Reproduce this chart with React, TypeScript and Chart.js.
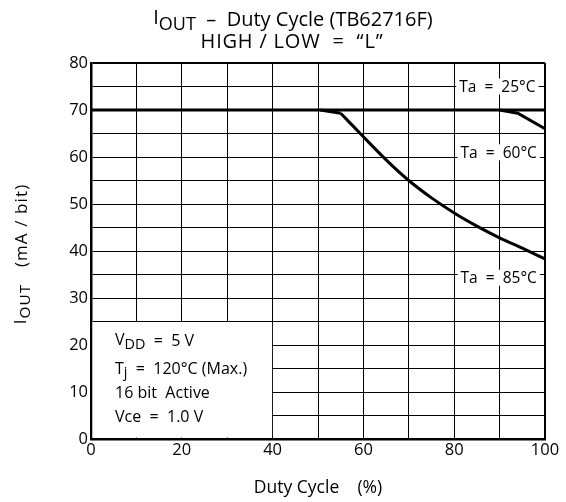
import React, { useEffect, useRef } from 'react';
import { Chart, registerables } from 'chart.js';

Chart.register(...registerables);

const FONT = "'Open Sans', 'DejaVu Sans', sans-serif";

// Data (Duty Cycle %, IOUT mA/bit)
const dutyTa25 = [0, 100];
const ioutTa25 = [70, 70];
const dutyTa60 = [90, 94, 100];
const ioutTa60 = [70, 69.3, 66];
const dutyTa85Flat = [50.5, 55];
const ioutTa85Flat = [70, 69.3];
const dutyTa85 = [55, 60, 65, 70, 75, 80, 85, 90, 95, 100];
const ioutTa85 = [69.3, 64.3, 59.4, 55, 51.3, 48.1, 45.3, 42.8, 40.6, 38.3];

const xTickLabels = [0, 20, 40, 60, 80, 100];
const yTickLabels = [0, 10, 20, 30, 40, 50, 60, 70, 80];

// Curve annotations: [label, duty, iout]
const curveLabels: [string, number, number][] = [
  ['Ta  =  25°C', 89.5, 75],
  ['Ta  =  60°C', 89.8, 61],
  ['Ta  =  85°C', 89.8, 34.3],
];

type Run = { t: string; sub?: boolean; sup?: boolean };

const titleLine1: Run[] = [{ t: 'I', sup: true }, { t: 'OUT', sub: true }, { t: '  –  Duty Cycle (TB62716F)' }];
const titleLine2: Run[] = [{ t: 'HIGH / LOW  =  “L”' }];
const yTitle: Run[] = [{ t: 'I', sup: true }, { t: 'OUT', sub: true }, { t: '   (mA / bit)' }];
const xTitle = 'Duty Cycle    (%)';

// Conditions box: lines and their iout positions
const condLines: Run[][] = [
  [{ t: 'V', sup: true }, { t: 'DD', sub: true }, { t: '  =  5 V' }],
  [{ t: 'T' }, { t: 'j', sub: true }, { t: '  =  120°C (Max.)' }],
  [{ t: '16 bit  Active' }],
  [{ t: 'Vce  =  1.0 V' }],
];
const condLineY = [20.9, 15.1, 10.0, 4.8];
const condBox = { xMax: 40, yMax: 25 };

const toPts = (xs: number[], ys: number[]) => xs.map((x, i) => ({ x, y: ys[i] }));

function runsWidth(ctx: CanvasRenderingContext2D, runs: Run[], size: number) {
  let w = 0;
  for (const r of runs) {
    ctx.font = `${r.sub ? size * 0.9 : size}px ${FONT}`;
    w += ctx.measureText(r.t).width;
  }
  return w;
}

function drawRuns(ctx: CanvasRenderingContext2D, runs: Run[], x: number, y: number, size: number, align: 'left' | 'center', spacing = 0) {
  ctx.save();
  (ctx as any).letterSpacing = `${spacing}px`;
  ctx.textBaseline = 'alphabetic';
  ctx.textAlign = 'left';
  ctx.fillStyle = '#000';
  let cx = align === 'center' ? x - runsWidth(ctx, runs, size) / 2 : x;
  for (const r of runs) {
    const s = r.sub ? size * 0.9 : size;
    ctx.font = `${s}px ${FONT}`;
    const dy = r.sub ? size * 0.2 : r.sup ? -size * 0.08 : 0;
    ctx.fillText(r.t, cx, y + dy);
    cx += ctx.measureText(r.t).width;
  }
  ctx.restore();
}

const annotPlugin = {
  id: 'annot',
  beforeDatasetsDraw(chart: any) {
    const { ctx, scales } = chart;
    const xs = scales.x, ys = scales.y;
    ctx.save();
    // conditions box (white, covering grid)
    const l = xs.getPixelForValue(0) + 1.5;
    const r = xs.getPixelForValue(condBox.xMax) - 0.5;
    const t = ys.getPixelForValue(condBox.yMax) + 0.5;
    const b = ys.getPixelForValue(0) - 1.5;
    ctx.fillStyle = '#fff';
    ctx.fillRect(l, t, r - l, b - t);
    condLines.forEach((runs, i) => {
      drawRuns(ctx, runs, xs.getPixelForValue(5.3), ys.getPixelForValue(condLineY[i]) + 5.5, 16, 'left');
    });
    // curve labels
    curveLabels.forEach(([txt, dx, dy]) => {
      ctx.font = `15.5px ${FONT}`;
      const w = ctx.measureText(txt).width;
      const cx = xs.getPixelForValue(dx);
      const cy = ys.getPixelForValue(dy);
      ctx.fillStyle = '#fff';
      ctx.fillRect(cx - w / 2 - 3, cy - 8, w + 6, 16);
      ctx.fillStyle = '#000';
      ctx.textAlign = 'center';
      ctx.textBaseline = 'middle';
      ctx.fillText(txt, cx, cy + 1);
    });
    ctx.restore();
  },
  afterDraw(chart: any) {
    const { ctx } = chart;
    const ca = chart.chartArea;
    // Title
    drawRuns(ctx, titleLine1, 293, 26, 20, 'center');
    drawRuns(ctx, titleLine2, 292, 48, 20, 'center', 0.8);
    // Y title rotated
    ctx.save();
    ctx.translate(27, (ca.top + ca.bottom) / 2 + 3);
    ctx.rotate(-Math.PI / 2);
    drawRuns(ctx, yTitle, 0, 0, 17, 'center', 1.1);
    ctx.restore();
  },
};

const edgeWidth = (edge: number) => (c: any) => (c.tick && c.tick.value === edge ? 2 : 1);

export default function App() {
  const ref = useRef<HTMLCanvasElement>(null);
  useEffect(() => {
    document.body.style.margin = '0';
    const canvas = ref.current!;
    const line = { borderColor: '#000', borderWidth: 3, pointRadius: 0 };
    const chart = new Chart(canvas, {
      type: 'line',
      data: {
        datasets: [
          { label: 'Ta = 25°C', data: toPts(dutyTa25, ioutTa25), ...line, tension: 0 },
          { label: 'Ta = 60°C', data: toPts(dutyTa60, ioutTa60), ...line, tension: 0 },
          { label: 'Ta = 85°C (flat)', data: toPts(dutyTa85Flat, ioutTa85Flat), ...line, tension: 0 },
          { label: 'Ta = 85°C', data: toPts(dutyTa85, ioutTa85), ...line, cubicInterpolationMode: 'monotone' },
        ],
      },
      options: {
        animation: false,
        responsive: false,
        layout: { padding: { top: 63, right: 21, left: 0, bottom: 0 } },
        plugins: { legend: { display: false }, tooltip: { enabled: false }, title: { display: false } },
        scales: {
          x: {
            type: 'linear',
            min: 0,
            max: 100,
            afterFit: (s: any) => { s.height = 63; },
            ticks: {
              stepSize: 10,
              autoSkip: false,
              maxRotation: 0,
              padding: 1,
              color: '#000',
              font: { family: FONT, size: 16.5 },
              callback: (v: any) => (xTickLabels.includes(v) ? String(v) : ''),
            },
            grid: { color: '#000', lineWidth: edgeWidth(100), drawTicks: false },
            border: { color: '#000', width: 2.5 },
            title: { display: true, text: xTitle, color: '#000', font: { family: FONT, size: 17.5 }, padding: { top: 0, bottom: 3 } },
          },
          y: {
            type: 'linear',
            min: 0,
            max: 80,
            afterFit: (s: any) => { s.width = 91; },
            ticks: {
              stepSize: 5,
              autoSkip: false,
              padding: 3,
              color: '#000',
              font: { family: FONT, size: 16.5 },
              callback: (v: any) => (yTickLabels.includes(v) ? String(v) : ''),
            },
            grid: { color: '#000', lineWidth: edgeWidth(80), drawTicks: false },
            border: { color: '#000', width: 2.5 },
          },
        },
      },
      plugins: [annotPlugin],
    } as any);
    return () => chart.destroy();
  }, []);
  return <canvas ref={ref} width={566} height={502} style={{ display: 'block' }} />;
}
